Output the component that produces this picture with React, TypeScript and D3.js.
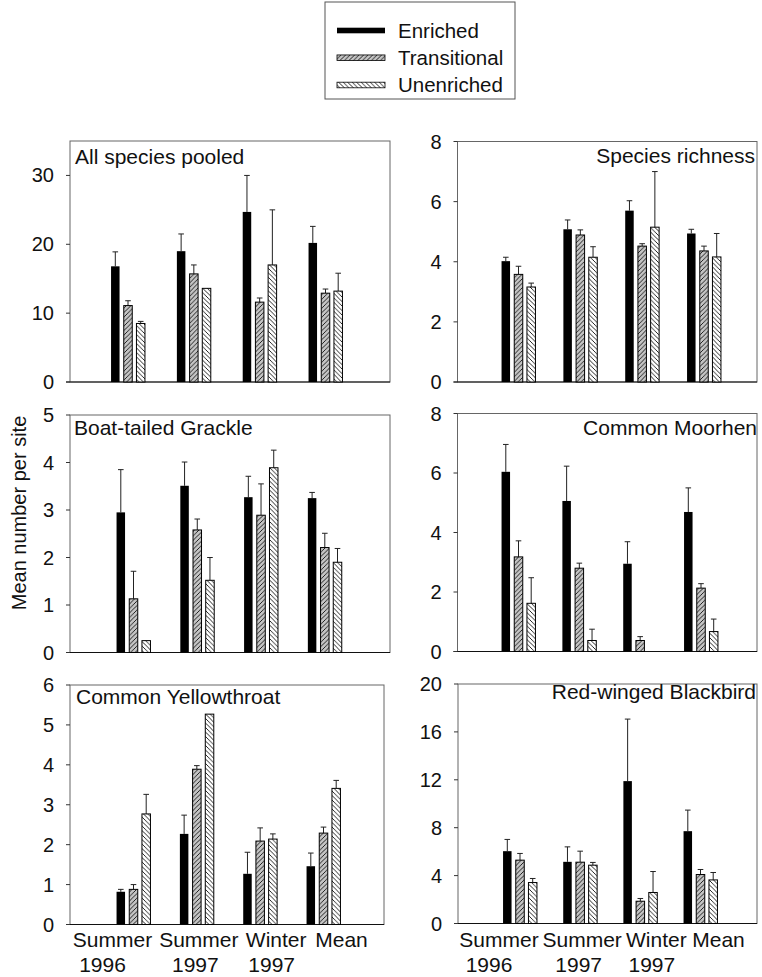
import React from "react";
import * as d3 from "d3";

// ---------- data ----------
const categories = ["Summer 1996", "Summer 1997", "Winter 1997", "Mean"];
const categoryLines = [["Summer", "1996"], ["Summer", "1997"], ["Winter", "1997"], ["Mean"]];
const seriesNames = ["Enriched", "Transitional", "Unenriched"];

const panelTitles = [
  "All species pooled",
  "Species richness",
  "Boat-tailed Grackle",
  "Common Moorhen",
  "Common Yellowthroat",
  "Red-winged Blackbird",
];
const yMaxes = [35, 8, 5, 8, 6, 20];
const yTicks = [
  [0, 10, 20, 30],
  [0, 2, 4, 6, 8],
  [0, 1, 2, 3, 4, 5],
  [0, 2, 4, 6, 8],
  [0, 1, 2, 3, 4, 5, 6],
  [0, 4, 8, 12, 16, 20],
];

// means: [Enriched, Transitional, Unenriched] x categories
const allSpeciesMeans = [[16.8, 19.0, 24.7, 20.2], [11.1, 15.7, 11.6, 12.9], [8.5, 13.6, 17.0, 13.2]];
const allSpeciesSE = [[2.1, 2.5, 5.3, 2.4], [0.7, 1.3, 0.6, 0.6], [0.3, 0, 8.0, 2.6]];
const richnessMeans = [[4.02, 5.08, 5.7, 4.94], [3.58, 4.89, 4.52, 4.36], [3.16, 4.15, 5.15, 4.16]];
const richnessSE = [[0.13, 0.31, 0.33, 0.14], [0.27, 0.17, 0.08, 0.16], [0.13, 0.35, 1.85, 0.78]];
const grackleMeans = [[2.95, 3.51, 3.27, 3.25], [1.13, 2.58, 2.89, 2.21], [0.25, 1.52, 3.89, 1.9]];
const grackleSE = [[0.9, 0.5, 0.44, 0.12], [0.58, 0.23, 0.66, 0.3], [0, 0.48, 0.37, 0.29]];
const moorhenMeans = [[6.04, 5.06, 2.95, 4.69], [3.18, 2.8, 0.37, 2.13], [1.62, 0.37, 0, 0.67]];
const moorhenSE = [[0.92, 1.17, 0.74, 0.81], [0.54, 0.17, 0.13, 0.15], [0.86, 0.38, 0, 0.42]];
const yellowthroatMeans = [[0.82, 2.27, 1.27, 1.46], [0.88, 3.89, 2.09, 2.29], [2.77, 5.27, 2.14, 3.41]];
const yellowthroatSE = [[0.06, 0.47, 0.54, 0.33], [0.12, 0.09, 0.33, 0.15], [0.49, 0, 0.13, 0.2]];
const blackbirdMeans = [[6.04, 5.15, 11.89, 7.71], [5.29, 5.12, 1.86, 4.09], [3.42, 4.87, 2.59, 3.64]];
const blackbirdSE = [[0.98, 1.25, 5.18, 1.76], [0.56, 0.92, 0.23, 0.42], [0.34, 0.23, 1.75, 0.62]];

const panelMeans = [allSpeciesMeans, richnessMeans, grackleMeans, moorhenMeans, yellowthroatMeans, blackbirdMeans];
const panelSE = [allSpeciesSE, richnessSE, grackleSE, moorhenSE, yellowthroatSE, blackbirdSE];

// ---------- layout ----------
const FONT = "'Liberation Sans', Arial, Helvetica, sans-serif";
const layouts = [
  { x0: 70, x1: 390, y0: 141, y1: 382, g0: 128, g1: 325.5, titleAnchor: "start", tx: 75, ty: 164 },
  { x0: 457.5, x1: 757, y0: 141.5, y1: 382, g0: 518.5, g1: 704, titleAnchor: "end", tx: 755, ty: 163 },
  { x0: 70, x1: 390, y0: 415, y1: 652.5, g0: 133.5, g1: 324.8, titleAnchor: "start", tx: 74, ty: 435 },
  { x0: 457.5, x1: 757, y0: 413.5, y1: 651.5, g0: 518.5, g1: 701, titleAnchor: "end", tx: 757, ty: 435 },
  { x0: 70, x1: 384, y0: 685, y1: 924.5, g0: 133.5, g1: 323.5, titleAnchor: "start", tx: 76, ty: 704 },
  { x0: 458, x1: 757, y0: 684, y1: 923.5, g0: 520, g1: 700.5, titleAnchor: "end", tx: 756, ty: 699 },
];
const barWidth = 8.5;
const barOffset = 12.7;
const line1Offsets = [-21, 2, 16, 18];
const line2Offsets = [-31, -1.5, 11.5, 0];
const fills = ["#000", "url(#hatchT)", "url(#hatchU)"];

function Panel({ idx }: { idx: number }) {
  const L = layouts[idx];
  const y = d3.scaleLinear().domain([0, yMaxes[idx]]).range([L.y1, L.y0]);
  const x = d3.scalePoint<string>().domain(categories).range([L.g0, L.g1]);
  const sx = d3.scalePoint<string>().domain(seriesNames).range([-barOffset, barOffset]);
  const means = panelMeans[idx];
  const ses = panelSE[idx];
  const isBottom = idx >= 4;
  return (
    <g>
      {/* frame */}
      <rect x={L.x0} y={L.y0} width={L.x1 - L.x0} height={L.y1 - L.y0} fill="none" stroke="#666" strokeWidth={1} />
      <line x1={L.x0 - 4} x2={L.x1} y1={L.y1} y2={L.y1} stroke="#111" strokeWidth={1.2} />
      {/* y ticks */}
      {yTicks[idx].map((t) => (
        <g key={t}>
          <line x1={L.x0 - 4} x2={L.x0} y1={y(t)} y2={y(t)} stroke="#333" strokeWidth={1} />
          <text x={L.x0 - 16} y={y(t)} dy="0.35em" textAnchor="end" fontSize={20} fontFamily={FONT} fill="#111">
            {t}
          </text>
        </g>
      ))}
      {/* bars */}
      {seriesNames.map((s, si) =>
        categories.map((c, ci) => {
          const v = means[si][ci];
          if (v <= 0) return null;
          const cx = (x(c) as number) + (sx(s) as number);
          const top = y(v);
          const se = ses[si][ci];
          return (
            <g key={s + c}>
              {se > 0 && (
                <g stroke="#222" strokeWidth={1}>
                  <line x1={cx} x2={cx} y1={top} y2={y(v + se)} />
                  <line x1={cx - 2.8} x2={cx + 2.8} y1={y(v + se)} y2={y(v + se)} />
                </g>
              )}
              <rect
                x={cx - barWidth / 2}
                y={top}
                width={barWidth}
                height={L.y1 - top}
                fill={fills[si]}
                stroke="#000"
                strokeWidth={si === 0 ? 0 : 1}
              />
            </g>
          );
        })
      )}
      {/* title */}
      <text x={L.tx} y={L.ty} textAnchor={L.titleAnchor as any} fontSize={21} fontFamily={FONT} fill="#111">
        {panelTitles[idx]}
      </text>
      {/* x labels */}
      {isBottom &&
        categories.map((c, ci) => (
          <g key={"xl" + c}>
            <text x={(x(c) as number) + line1Offsets[ci]} y={947} textAnchor="middle" fontSize={21} fontFamily={FONT} fill="#111">
              {categoryLines[ci][0]}
            </text>
            {categoryLines[ci][1] && (
              <text x={(x(c) as number) + line2Offsets[ci]} y={972} textAnchor="middle" fontSize={21} fontFamily={FONT} fill="#111">
                {categoryLines[ci][1]}
              </text>
            )}
          </g>
        ))}
    </g>
  );
}

function Legend() {
  const rows = d3.scalePoint<string>().domain(seriesNames).range([30.5, 85]);
  return (
    <g>
      <rect x={325} y={2} width={190} height={97} fill="#fff" stroke="#555" strokeWidth={1} />
      {seriesNames.map((s, i) => (
        <g key={s}>
          <rect
            x={337}
            y={(rows(s) as number) - 2.8}
            width={48}
            height={5.6}
            fill={fills[i]}
            stroke="#000"
            strokeWidth={i === 0 ? 0 : 0.8}
          />
          <text x={398} y={(rows(s) as number) + 7} fontSize={20.5} fontFamily={FONT} fill="#111">
            {s}
          </text>
        </g>
      ))}
    </g>
  );
}

export default function App() {
  return (
    <svg
      width={762}
      height={977}
      viewBox="0 0 762 977"
      style={{ position: "absolute", left: 0, top: 0, background: "#fff" }}
    >
      <defs>
        <pattern id="hatchT" patternUnits="userSpaceOnUse" width={4.5} height={4.5}>
          <rect width={4.5} height={4.5} fill="#c4c4c4" />
          <path d="M-1,1 L1,-1 M0,4.5 L4.5,0 M3.5,5.5 L5.5,3.5" stroke="#111" strokeWidth={0.9} />
        </pattern>
        <pattern id="hatchU" patternUnits="userSpaceOnUse" width={4.5} height={4.5}>
          <rect width={4.5} height={4.5} fill="#fff" />
          <path d="M-1,3.5 L1,5.5 M0,0 L4.5,4.5 M3.5,-1 L5.5,1" stroke="#111" strokeWidth={0.9} />
        </pattern>
      </defs>
      <rect width={762} height={977} fill="#fff" />
      <Legend />
      {panelTitles.map((t, i) => (
        <Panel key={t} idx={i} />
      ))}
      <text
        transform="translate(26,513) rotate(-90)"
        textAnchor="middle"
        fontSize={20}
        fontFamily={FONT}
        fill="#111"
      >
        Mean number per site
      </text>
    </svg>
  );
}
